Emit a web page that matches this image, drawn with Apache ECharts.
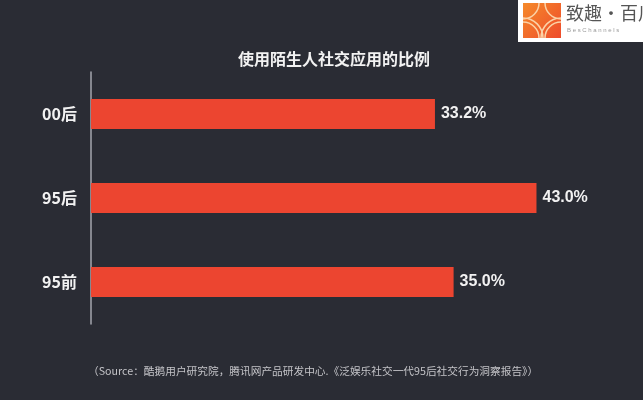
<!DOCTYPE html>
<html><head><meta charset="utf-8">
<script src="https://cdn.jsdelivr.net/npm/echarts@6/dist/echarts.min.js"></script>
<style>html,body{margin:0;padding:0;background:#2a2c34;}#c{width:643px;height:400px;}</style>
</head><body><div id="c"></div>
<script>
var categories = ['00后', '95后', '95前'];
var values = [33.2, 43.0, 35.0];
var titleText = '使用陌生人社交应用的比例';
var sourceText = '（Source：酷鹅用户研究院，腾讯网产品研发中心.《泛娱乐社交一代95后社交行为洞察报告》）';

var chart = echarts.init(document.getElementById('c'));
chart.setOption({
  backgroundColor: '#2a2c34',
  title: {
    text: titleText, left: 329, top: 46, textAlign: 'center',
    textStyle: {color: '#f2f2f2', fontSize: 16, fontWeight: 'bold', fontFamily: 'Noto Sans CJK SC'}
  },
  grid: {left: 91, top: 72, width: 518, height: 252},
  xAxis: {type: 'value', min: 0, max: 50, show: false},
  yAxis: {
    type: 'category', data: categories, inverse: true,
    axisLine: {show: true, lineStyle: {color: '#a4a6ae', width: 1.5}},
    axisTick: {show: false},
    axisLabel: {color: '#f2f2f2', fontSize: 16, fontWeight: 'bold', margin: 14, fontFamily: 'Noto Sans CJK SC'}
  },
  series: [{
    type: 'bar', data: values, barWidth: 30,
    itemStyle: {color: '#ec4530'},
    label: {show: true, position: 'right', distance: 6, color: '#f2f2f2', fontSize: 16, fontWeight: 'bold',
      fontFamily: 'Liberation Sans', formatter: function(p){ return p.value.toFixed(1) + '%'; }}
  }],
  graphic: [
    {type: 'text', left: 88, top: 366, style: {text: sourceText, fill: '#c4c4c8', fontSize: 10.7, fontFamily: 'Noto Sans CJK SC'}},
    {type: 'rect', shape: {x: 518, y: 0, width: 125, height: 42}, style: {fill: '#ffffff'}},
    {type: 'rect', shape: {x: 523, y: 3, width: 38, height: 35}, style: {fill: new echarts.graphic.LinearGradient(0,0,1,1,[{offset:0,color:'#f58a2a'},{offset:1,color:'#ee4b2c'}])}},
    {type: 'arc', shape: {cx: 523, cy: 38, r: 16, startAngle: -Math.PI/2, endAngle: 0}, style: {stroke: '#fbd3a8', lineWidth: 1.5, fill: null}},
    {type: 'arc', shape: {cx: 523, cy: 38, r: 20, startAngle: -Math.PI/2, endAngle: 0}, style: {stroke: '#fbd3a8', lineWidth: 1.5, fill: null}},
    {type: 'arc', shape: {cx: 561, cy: 38, r: 16, startAngle: Math.PI, endAngle: Math.PI*1.5}, style: {stroke: '#fbd3a8', lineWidth: 1.5, fill: null}},
    {type: 'arc', shape: {cx: 561, cy: 38, r: 20, startAngle: Math.PI, endAngle: Math.PI*1.5}, style: {stroke: '#fbd3a8', lineWidth: 1.5, fill: null}},
    {type: 'arc', shape: {cx: 523, cy: 3, r: 16, startAngle: 0, endAngle: Math.PI/2}, style: {stroke: '#fbd3a8', lineWidth: 1.5, fill: null}},
    {type: 'arc', shape: {cx: 561, cy: 3, r: 16, startAngle: Math.PI/2, endAngle: Math.PI}, style: {stroke: '#fbd3a8', lineWidth: 1.5, fill: null}},
    {type: 'text', left: 566, top: 4, style: {text: '致趣·百川', fill: '#555555', fontSize: 18, fontFamily: 'Noto Sans CJK SC'}},
    {type: 'text', left: 567, top: 27, style: {text: 'B e s C h a n n e l s', fill: '#999999', fontSize: 6, fontFamily: 'Liberation Sans'}}
  ]
});
</script></body></html>
